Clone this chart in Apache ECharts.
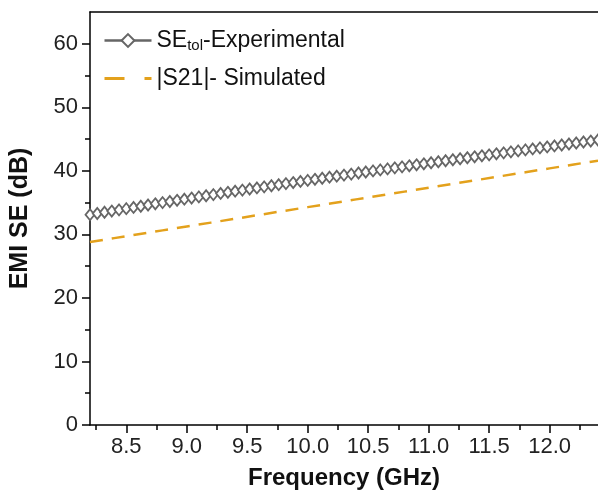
<!DOCTYPE html>
<html>
<head>
<meta charset="utf-8">
<script src="https://cdn.jsdelivr.net/npm/echarts@6/dist/echarts.min.js"></script>
<style>
html,body{margin:0;padding:0;background:#fff;}
#chart{width:598px;height:497px;}
</style>
</head>
<body>
<div id="chart"></div>
<script>
// Frequency points (GHz) for experimental data, 8.2 to 12.4 step 0.06
const freqExp = [8.20,8.26,8.32,8.38,8.44,8.50,8.56,8.62,8.68,8.74,8.80,8.86,8.92,8.98,9.04,9.10,9.16,9.22,9.28,9.34,9.40,9.46,9.52,9.58,9.64,9.70,9.76,9.82,9.88,9.94,10.00,10.06,10.12,10.18,10.24,10.30,10.36,10.42,10.48,10.54,10.60,10.66,10.72,10.78,10.84,10.90,10.96,11.02,11.08,11.14,11.20,11.26,11.32,11.38,11.44,11.50,11.56,11.62,11.68,11.74,11.80,11.86,11.92,11.98,12.04,12.10,12.16,12.22,12.28,12.34,12.40];
const seExp = [33.10,33.29,33.48,33.67,33.86,34.05,34.24,34.43,34.62,34.81,35.00,35.18,35.36,35.54,35.72,35.90,36.08,36.26,36.44,36.62,36.80,36.97,37.14,37.31,37.48,37.65,37.82,37.99,38.16,38.33,38.50,38.67,38.83,39.00,39.16,39.33,39.49,39.66,39.82,39.99,40.15,40.31,40.47,40.63,40.79,40.95,41.11,41.27,41.43,41.59,41.75,41.90,42.06,42.21,42.37,42.52,42.68,42.83,42.99,43.14,43.30,43.45,43.61,43.76,43.92,44.07,44.23,44.38,44.54,44.69,44.85];
// Simulated |S21|
const freqSim = [8.2,8.4,8.6,8.8,9.0,9.2,9.4,9.6,9.8,10.0,10.2,10.4,10.6,10.8,11.0,11.2,11.4,11.6,11.8,12.0,12.2,12.4];
const s21Sim = [28.80,29.41,30.02,30.63,31.24,31.85,32.46,33.07,33.68,34.29,34.90,35.51,36.12,36.73,37.34,37.95,38.56,39.17,39.78,40.39,41.00,41.61];
// Tick values
const xMajorTicks = [8.5,9.0,9.5,10.0,10.5,11.0,11.5,12.0];
const xMinorTicks = [8.25,8.75,9.25,9.75,10.25,10.75,11.25,11.75,12.25];
const yMajorTicks = [0,10,20,30,40,50,60];
const yMinorTicks = [5,15,25,35,45,55];
const seriesNames = ['SE_tol-Experimental','|S21|- Simulated'];

const FONT = '"Liberation Sans", Arial, sans-serif';
const chart = echarts.init(document.getElementById('chart'), null, {renderer:'canvas'});
const axisLineStyle = {color:'#000', width:1.5};
const zip = (a,b)=>a.map((v,i)=>[v,b[i]]);

chart.setOption({
  animation:false,
  backgroundColor:'#fff',
  grid:{left:90, top:12, width:511, height:413, show:false, containLabel:false},
  legend:{
    orient:'vertical', left:98, top:24, itemWidth:47, itemHeight:16, itemGap:14,
    textStyle:{fontFamily:FONT, fontSize:23, color:'#111',
      rich:{
        a:{fontFamily:FONT, fontSize:23, color:'#111'},
        s:{fontFamily:FONT, fontSize:15, color:'#111', padding:[10,0,0,0]}
      }},
    formatter:function(n){
      if(n===seriesNames[0]) return '{a|SE}{s|tol}{a|-Experimental}';
      return '{a|' + n + '}';
    },
    data:[
      {name:seriesNames[0], lineStyle:{width:2.5}},
      {name:seriesNames[1], itemStyle:{opacity:0}, lineStyle:{type:[20,20], width:3}}
    ]
  },
  xAxis:[
    {type:'value', min:8.2, max:12.4, position:'bottom',
     name:'Frequency (GHz)', nameLocation:'middle', nameGap:41,
     nameTextStyle:{fontFamily:FONT, fontSize:24, fontWeight:'bold', color:'#111'},
     axisLine:{show:true, onZero:false, lineStyle:axisLineStyle},
     axisTick:{show:true, inside:false, length:8, lineStyle:axisLineStyle, customValues:xMajorTicks},
     axisLabel:{show:true, margin:11, fontFamily:FONT, fontSize:22, color:'#222', customValues:xMajorTicks,
       formatter:v=>v.toFixed(1)},
     splitLine:{show:false}},
    {type:'value', min:8.2, max:12.4, position:'bottom',
     axisLine:{show:false},
     axisTick:{show:true, inside:false, length:5, lineStyle:axisLineStyle, customValues:xMinorTicks},
     axisLabel:{show:false}, splitLine:{show:false}},
    {type:'value', min:8.2, max:12.4, position:'top',
     axisLine:{show:true, onZero:false, lineStyle:axisLineStyle},
     axisTick:{show:false}, axisLabel:{show:false}, splitLine:{show:false}}
  ],
  yAxis:[
    {type:'value', min:0, max:65, position:'left',
     name:'EMI SE (dB)', nameLocation:'middle', nameGap:57,
     nameTextStyle:{fontFamily:FONT, fontSize:25, fontWeight:'bold', color:'#111'},
     axisLine:{show:true, onZero:false, lineStyle:axisLineStyle},
     axisTick:{show:true, inside:false, length:8, lineStyle:axisLineStyle, customValues:yMajorTicks},
     axisLabel:{show:true, margin:12, fontFamily:FONT, fontSize:22, color:'#222', customValues:yMajorTicks},
     splitLine:{show:false}},
    {type:'value', min:0, max:65, position:'left',
     axisLine:{show:false},
     axisTick:{show:true, inside:false, length:5, lineStyle:axisLineStyle, customValues:yMinorTicks},
     axisLabel:{show:false}, splitLine:{show:false}}
  ],
  series:[
    {name:seriesNames[0], type:'line', xAxisIndex:0, yAxisIndex:0,
     data:zip(freqExp, seExp),
     symbol:'diamond', symbolSize:[9,11], showSymbol:true,
     lineStyle:{color:'#666666', width:2.5},
     itemStyle:{color:'#fff', borderColor:'#666666', borderWidth:1.8},
     z:3},
    {name:seriesNames[1], type:'line', xAxisIndex:0, yAxisIndex:0,
     data:zip(freqSim, s21Sim),
     symbol:'none', showSymbol:false,
     lineStyle:{color:'#E3A11C', width:2.5, type:[13,9]},
     itemStyle:{color:'#E3A11C'},
     z:2}
  ]
});
</script>
</body>
</html>
